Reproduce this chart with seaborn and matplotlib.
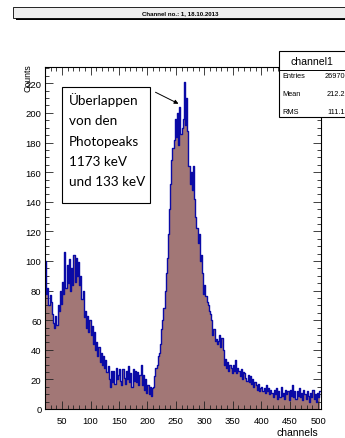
import numpy as np
import pandas as pd
import matplotlib
matplotlib.use("Agg")
import matplotlib.pyplot as plt
import seaborn as sns
from matplotlib.patches import Rectangle, FancyArrowPatch
from matplotlib.ticker import MultipleLocator

# ---------------- data ----------------
bin_start = 20
bin_width = 2
counts = [
    100, 78, 82, 70, 77,   72, 64, 58, 55, 63,    57, 70, 66, 80, 71,
    86, 78, 106, 82, 97,   85, 101, 80, 95, 84,   104, 86, 102, 90, 99,
    84, 90, 74, 80, 62,    66, 55, 63, 52, 60,    50, 56, 44, 52, 40,
    45, 36, 42, 32, 38,    30, 36, 28, 33, 25,    29, 20, 15, 26, 18,
    26, 17, 28, 20, 23,    27, 19, 16, 27, 21,    17, 26, 20, 29, 18,
    24, 15, 27, 19, 26,    18, 25, 16, 23, 30,    16, 23, 13, 20, 11,
    16, 10, 15, 9, 14,     15, 22, 28, 30, 36,    38, 44, 54, 60, 68,
    80, 92, 102, 118, 135, 152, 168, 176, 182, 196, 184, 200, 178, 204, 186,
    190, 196, 221, 192, 210, 188, 164, 152, 160, 148, 164, 142, 130, 122, 112,
    118, 100, 104, 92, 78, 84, 76, 72, 70, 66,    64, 60, 50, 54, 46,
    47, 44, 46, 50, 42,    48, 40, 30, 34, 28,    32, 26, 30, 28, 24,
    30, 26, 33, 24, 28,    26, 22, 27, 20, 25,    24, 21, 19, 23, 18,
    22, 17, 20, 15, 18,    16, 13, 17, 12, 14,    15, 12, 14, 11, 16,
    12, 14, 10, 13, 11,    8, 13, 10, 14, 7,      12, 8, 15, 9, 11,
    7, 13, 10, 12, 6,      13, 9, 16, 8, 12,      7, 12, 9, 14, 8,
    11, 6, 13, 10, 7,      12, 9, 5, 11, 8,       13, 7, 10, 5, 11,
    8, 12,
]
x_ticks = [50, 100, 150, 200, 250, 300, 350, 400, 450, 500]
y_ticks = [0, 20, 40, 60, 80, 100, 120, 140, 160, 180, 200, 220]
title_text = "Channel no.: 1, 18.10.2013"
stats_name = "channel1"
stats_labels = ["Entries", "Mean", "RMS"]
stats_values = ["26970", "212.2", "111.1"]
note_lines = ["Überlappen", "von den", "Photopeaks", "1173 keV", "und 133 keV"]

n_bins = len(counts)
centers = bin_start + bin_width * (np.arange(n_bins) + 0.5)
df = pd.DataFrame({"channel": centers, "counts": np.asarray(counts, dtype=float)})
brange = (bin_start, bin_start + bin_width * n_bins)

# ---------------- figure ----------------
plt.rcParams["font.family"] = ["Liberation Sans", "DejaVu Sans"]
W, H = 345, 439
fig = plt.figure(figsize=(W / 100, H / 100), dpi=100)
fig.patch.set_facecolor("white")

def F(px, py):
    return (px / W, 1 - py / H)

ax_l, ax_r, ax_t, ax_b = 45, 321, 68, 410
ax = fig.add_axes([ax_l / W, 1 - ax_b / H, (ax_r - ax_l) / W, (ax_b - ax_t) / H])

fill_col = "#a27776"
line_col = "#0a0aa6"
sns.histplot(data=df, x="channel", weights="counts", binwidth=bin_width, binrange=brange,
             element="step", fill=True, color=fill_col, alpha=1, linewidth=0, ax=ax)
sns.histplot(data=df, x="channel", weights="counts", binwidth=bin_width, binrange=brange,
             element="step", fill=False, color=line_col, linewidth=1.0, ax=ax)

ax.set_xlim(20, 505)
ax.set_ylim(0, 231)
ax.set_xlabel("")
ax.set_ylabel("")
ax.set_xticks(x_ticks)
ax.set_xticklabels([str(v) for v in x_ticks])
ax.set_yticks(y_ticks)
ax.set_yticklabels([str(v) for v in y_ticks])
ax.xaxis.set_minor_locator(MultipleLocator(10))
ax.yaxis.set_minor_locator(MultipleLocator(5))
ax.tick_params(which="both", direction="in", top=True, right=True, width=0.6, color="#222222")
ax.tick_params(which="major", length=5.5, labelsize=6.8)
ax.tick_params(which="minor", length=2.8)
ax.tick_params(axis="x", which="major", pad=5)
ax.tick_params(axis="y", which="major", pad=2.5)
for s in ax.spines.values():
    s.set_linewidth(0.8)
    s.set_color("black")
ax.set_facecolor("white")

# axis labels
fig.text(*F(28, 64), "Counts", rotation=90, ha="center", va="top", fontsize=6.3)
fig.text(*F(318, 433), "channels", ha="right", va="center", fontsize=7.5)

# title box with shadow
x0, y0, x1, y1 = 13, 8, 348, 19
fig.add_artist(Rectangle(F(x0 + 3, y1 + 2), (x1 - x0) / W, (y1 - y0) / H,
                         transform=fig.transFigure, facecolor="black", edgecolor="none"))
fig.add_artist(Rectangle(F(x0, y1), (x1 - x0) / W, (y1 - y0) / H,
                         transform=fig.transFigure, facecolor="#eeeeee", edgecolor="black", linewidth=0.6))
fig.text(*F(180, 13.8), title_text, ha="center", va="center", fontsize=4.4, fontweight="bold")

# stats box
sx0, sy0, sx1, sy1 = 279, 52, 352, 118
fig.add_artist(Rectangle(F(sx0, sy1), (sx1 - sx0) / W, (sy1 - sy0) / H,
                         transform=fig.transFigure, facecolor="white", edgecolor="black", linewidth=0.8))
fig.add_artist(plt.Line2D([sx0 / W, sx1 / W], [1 - 71 / H, 1 - 71 / H],
                          transform=fig.transFigure, color="black", linewidth=0.7))
fig.text(*F(312, 62), stats_name, ha="center", va="center", fontsize=7.6)
for i, (lab, val) in enumerate(zip(stats_labels, stats_values)):
    yy = [77, 95, 113][i]
    fig.text(*F(282, yy), lab, ha="left", va="center", fontsize=5.3)
    fig.text(*F(345, yy), val, ha="right", va="center", fontsize=5.3)

# annotation box
bx0, by0, bx1, by1 = 62, 88, 150, 204
fig.add_artist(Rectangle(F(bx0, by1), (bx1 - bx0) / W, (by1 - by0) / H,
                         transform=fig.transFigure, facecolor="white", edgecolor="black", linewidth=0.8))
for i, line in enumerate(note_lines):
    yy = [100, 121, 142, 162, 182][i]
    fig.text(*F(69, yy), line, ha="left", va="center", fontsize=9.7,
             family=["Lato", "DejaVu Sans"])

fig.add_artist(FancyArrowPatch(F(153, 92), F(181, 106), transform=fig.transFigure,
                               arrowstyle="-|>", mutation_scale=6, linewidth=0.7, color="black"))

fig.savefig("out.png", dpi=100)
